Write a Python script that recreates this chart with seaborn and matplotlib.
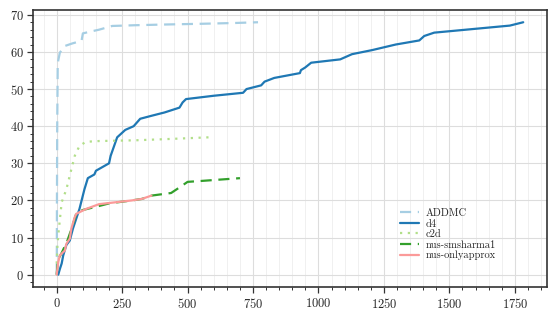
import numpy as np
import pandas as pd
import matplotlib
matplotlib.use("Agg")
import matplotlib.pyplot as plt
from matplotlib.ticker import MultipleLocator
import seaborn as sns

# -----------------------------
# Data (time in s, number of instances solved)
# -----------------------------
addmc_x = [0, 0.5, 1, 2, 4, 12, 31, 60, 95, 100, 130, 162, 212, 300, 420, 560, 680, 769]
addmc_y = [0, 5, 20, 40, 57, 59.8, 61.6, 62.3, 63, 65, 65.5, 66, 67, 67.2, 67.4, 67.6, 67.8, 68]

d4_x = [6, 12, 19, 25, 37, 50, 62, 87, 106, 119, 144, 150, 200, 206, 231, 262, 294, 319,
        362, 412, 469, 481, 494, 600, 712, 725, 781, 794, 831, 929, 933, 949, 972, 1083,
        1128, 1205, 1295, 1385, 1404, 1442, 1731, 1782]
d4_y = [0, 1.5, 3, 5.2, 8, 9.2, 12.4, 17.7, 23, 26, 27, 28, 30, 32, 37, 39, 40, 42,
        42.8, 43.7, 45, 46.4, 47.3, 48.2, 49, 50, 51, 52, 53, 54.3, 55.1, 55.8, 57.1, 58,
        59.4, 60.5, 62, 63.1, 64.3, 65.2, 67.1, 68]

c2d_x = [0, 3, 8, 19, 37, 50, 69, 87, 112, 162, 300, 412, 581]
c2d_y = [3, 8, 12, 19.5, 23, 26.7, 32, 34.7, 35.8, 36, 36.2, 36.5, 37]

sms_x = [0, 5, 20, 40, 55, 75, 87, 162, 200, 287, 325, 362, 437, 469, 500, 562, 700]
sms_y = [0, 4, 6, 9, 12, 16.5, 17.2, 18.5, 19.2, 20, 20.4, 21.3, 22, 23.5, 25, 25.3, 26]

approx_x = [0, 6, 12, 31, 37, 50, 56, 69, 75, 112, 162, 200, 287, 325, 362]
approx_y = [0, 3.4, 5.2, 6.5, 8.3, 9.7, 12.4, 15.5, 16.4, 17.7, 19, 19.3, 20, 20.4, 21.3]

names = ["ADDMC", "d4", "c2d", "nus-smsharma1", "nus-onlyapprox"]
xs = [addmc_x, d4_x, c2d_x, sms_x, approx_x]
ys = [addmc_y, d4_y, c2d_y, sms_y, approx_y]
colors = ["#a6cee3", "#1f78b4", "#b2df8a", "#33a02c", "#fb9a99"]
styles = [(0, (5, 3)), "-", (0, (1, 2.5)), (0, (5, 3)), "-"]

# -----------------------------
# Style
# -----------------------------
sns.set_theme(style="whitegrid")
plt.rcParams["font.family"] = ["cmr10", "DejaVu Serif"]
plt.rcParams["axes.formatter.use_mathtext"] = True
plt.rcParams["mathtext.fontset"] = "cm"

fig, ax = plt.subplots(figsize=(5.56, 3.21), dpi=100)

for name, x, y, c, ls in zip(names, xs, ys, colors, styles):
    df = pd.DataFrame({"time": x, "solved": y})
    sns.lineplot(data=df, x="time", y="solved", ax=ax, color=c, linestyle=ls,
                 linewidth=1.6, label=name, estimator=None, sort=False)

ax.set_xlabel("")
ax.set_ylabel("")
ax.xaxis.set_major_locator(MultipleLocator(250))
ax.xaxis.set_minor_locator(MultipleLocator(50))
ax.yaxis.set_major_locator(MultipleLocator(10))
ax.yaxis.set_minor_locator(MultipleLocator(2))

ax.tick_params(axis="both", which="major", direction="out", length=4, width=0.9,
               color="#333333", labelsize=9, bottom=True, left=True, pad=3)
ax.tick_params(axis="both", which="minor", direction="out", length=2, width=0.7,
               color="#333333", bottom=True, left=True)

ax.grid(True, which="major", color="#dddddd", linewidth=0.8)
ax.grid(True, which="minor", axis="x", color="#eeeeee", linewidth=0.6)

for s in ax.spines.values():
    s.set_color("#333333")
    s.set_linewidth(1.2)

leg = ax.legend(loc="upper left", bbox_to_anchor=(0.7, 0.31), frameon=False,
                fontsize=7.5, handlelength=1.8, handletextpad=0.7,
                labelspacing=0.1, borderpad=0.2)

plt.subplots_adjust(left=0.06, right=0.983, bottom=0.105, top=0.97)
plt.savefig("out.png", dpi=100)
